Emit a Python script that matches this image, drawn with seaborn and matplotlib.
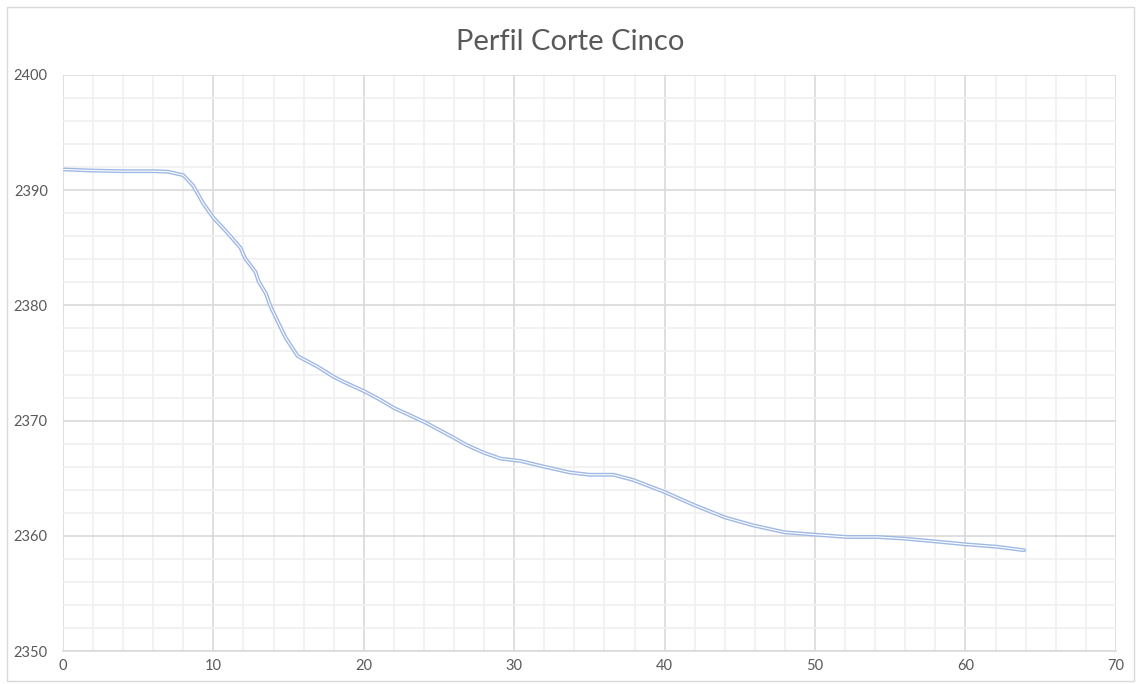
import matplotlib
matplotlib.use("Agg")
import matplotlib.pyplot as plt
from matplotlib.ticker import MultipleLocator
from matplotlib.patches import Rectangle
import seaborn as sns
import pandas as pd

# Profile: distance (m) vs elevation (m)
distance = [0, 2, 4, 6, 7, 8, 8.65, 9.3, 10, 10.65, 11.2, 11.8, 12.1, 12.8, 13.0,
            13.5, 13.8, 14.5, 14.8, 15.6, 16.9, 18.0, 18.6, 20.1, 21.1, 22.0, 24.0,
            26.0, 26.8, 28.0, 29.1, 30.4, 32.0, 33.7, 35.0, 36.6, 37.9, 40.0, 41.9,
            44.0, 45.9, 48.0, 50.0, 52.1, 54.1, 56.0, 58.1, 60.1, 62.1, 63.9]
elevation = [2391.8, 2391.7, 2391.65, 2391.65, 2391.6, 2391.3, 2390.4, 2388.9,
             2387.6, 2386.7, 2385.9, 2385.0, 2384.1, 2382.9, 2382.1, 2381.0,
             2379.9, 2378.0, 2377.2, 2375.6, 2374.7, 2373.8, 2373.4, 2372.5,
             2371.8, 2371.1, 2369.9, 2368.5, 2367.9, 2367.2, 2366.7, 2366.5,
             2366.0, 2365.5, 2365.3, 2365.3, 2364.85, 2363.8, 2362.7, 2361.6,
             2360.9, 2360.3, 2360.1, 2359.9, 2359.9, 2359.75, 2359.5, 2359.25,
             2359.05, 2358.75]
title = "Perfil Corte Cinco"

df = pd.DataFrame({"distancia": distance, "cota": elevation})

sns.set_style("white")
plt.rcParams["font.family"] = ["Lato", "DejaVu Sans"]

fig = plt.figure(figsize=(11.41, 6.84), dpi=100)
ax = fig.add_axes([0.0552, 0.0482, 0.9228, 0.8422])

# outer chart frame
fig.patches.append(Rectangle((0.006, 0.004), 0.988, 0.986, transform=fig.transFigure,
                             fill=False, edgecolor="#d9d9d9", linewidth=1.0))

# double-stroke line: light blue outline with white core
sns.lineplot(data=df, x="distancia", y="cota", ax=ax, color="#9fb8e4",
             linewidth=2.8, sort=False, zorder=3)
sns.lineplot(data=df, x="distancia", y="cota", ax=ax, color="white",
             linewidth=0.8, sort=False, zorder=4)

ax.set_xlim(0, 70)
ax.set_ylim(2350, 2400)
ax.xaxis.set_major_locator(MultipleLocator(10))
ax.yaxis.set_major_locator(MultipleLocator(10))
ax.xaxis.set_minor_locator(MultipleLocator(2))
ax.yaxis.set_minor_locator(MultipleLocator(2))

ax.grid(which="minor", color="#f0f0f0", linewidth=1.2, zorder=0)
ax.grid(which="major", color="#d9d9d9", linewidth=1.2, zorder=1)
ax.set_axisbelow(True)
for side in ["top", "right", "left"]:
    ax.spines[side].set_visible(False)
ax.spines["bottom"].set_color("#d9d9d9")
ax.spines["bottom"].set_linewidth(1.2)

ax.tick_params(which="both", length=0, labelsize=10.5, labelcolor="#595959")
ax.tick_params(axis="y", pad=11)
ax.tick_params(axis="x", pad=6)
ax.set_xlabel("")
ax.set_ylabel("")

fig.text(0.5, 0.938, title, ha="center", va="center", fontsize=21, color="#595959")

fig.savefig("out.png", dpi=100)
